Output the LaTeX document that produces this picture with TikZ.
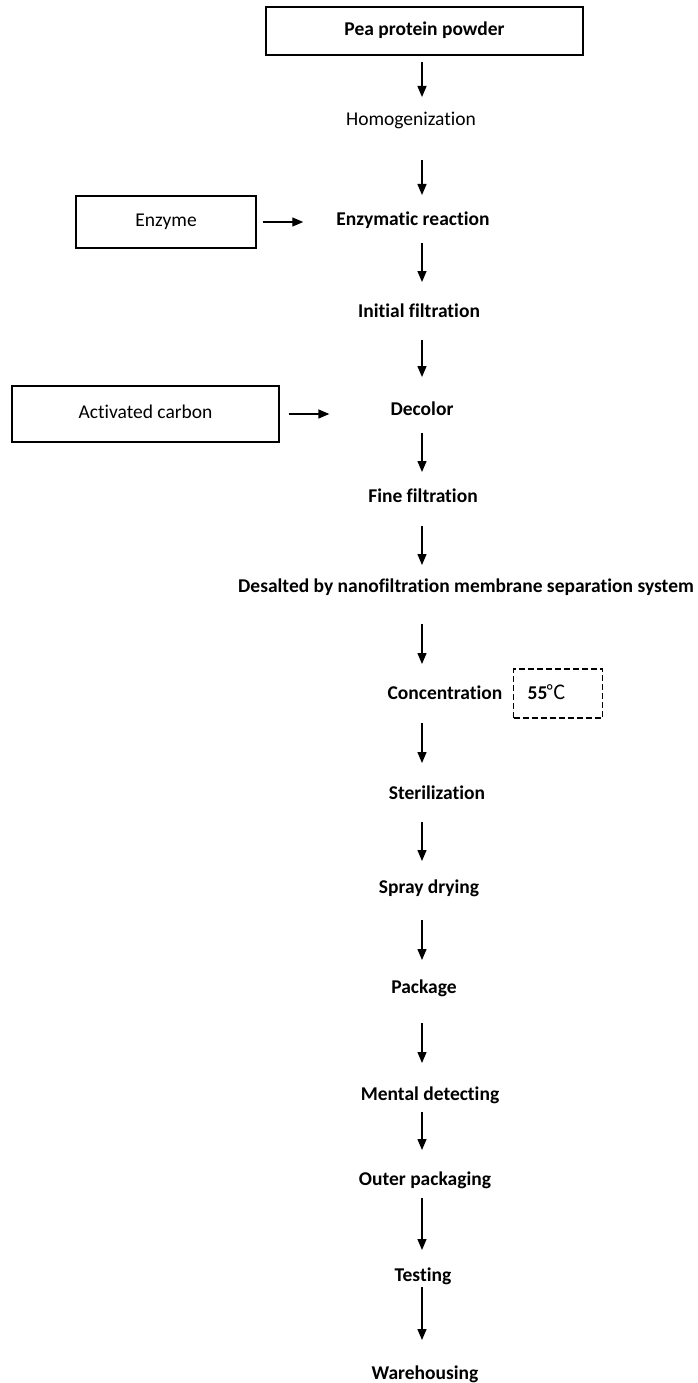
\documentclass[tikz,border=0pt]{standalone}
\usepackage{fontspec}
\setmainfont{Carlito}[Ligatures=NoCommon]
\newfontfamily\cjk{Noto Sans CJK SC}
\usetikzlibrary{arrows.meta}

\begin{document}
\begin{tikzpicture}[x=1pt,y=-1pt,
    stepname/.style={inner sep=0pt, text height=16pt, text depth=3.5pt,
      font=\fontsize{19.5}{23}\selectfont\bfseries},
    plainname/.style={stepname, font=\fontsize{19.5}{23}\selectfont},
    box/.style={draw, line width=1.4pt, text height=13pt, text depth=4.5pt},
    dashbox/.style={draw, line width=1.4pt, dash pattern=on 6pt off 3pt},
    flow/.style={-{Triangle[width=9pt,length=11pt]}, line width=1.4pt}]
  \useasboundingbox (0,0) rectangle (698,1383);
  \coordinate (col) at (422,0);
  \path
    (424.5,31) node[stepname, box, minimum width=317, minimum height=48] (pea){Pea protein powder}
    (411,119) node[plainname] (homog){Homogenization}
    (166,222) node[plainname, box, minimum width=180, minimum height=52] (enz){Enzyme}
    (413,219) node[stepname] (enzr){Enzymatic reaction}
    (419,311) node[stepname] (initf){Initial filtration}
    (145.5,414) node[plainname, box, minimum width=267, minimum height=56] (carbon){Activated carbon}
    (422,409) node[stepname] (decol){Decolor}
    (423,496) node[stepname] (finef){Fine filtration}
    (466,586) node[stepname] (desalt){Desalted by nanofiltration membrane separation system}
    (445,693) node[stepname] (conc){Concentration}
    (513,693.5) node[stepname, dashbox, anchor=west, text width=61, inner xsep=14,
      minimum height=49, align=left] (temp){55\kern-1pt{\cjk\mdseries ℃}}
    (437,793) node[stepname] (steril){Sterilization}
    (429,887) node[stepname] (spray){Spray drying}
    (424,987) node[stepname] (pack){Package}
    (430,1094) node[stepname] (metal){Mental detecting}
    (425,1179) node[stepname] (outer){Outer packaging}
    (423,1275) node[stepname] (test){Testing}
    (425,1373) node[stepname] (wareh){Warehousing};
  \begin{scope}[flow]
    \draw[shorten <=31, shorten >=22] (pea.center -| col) -- (homog.center -| col);
    \draw[shorten <=41, shorten >=24] (homog.center -| col) -- (enzr.center -| col);
    \draw[shorten <=24, shorten >=29] (enzr.center -| col) -- (initf.center -| col);
    \draw[shorten <=29, shorten >=32] (initf.center -| col) -- (decol.center -| col);
    \draw[shorten <=24, shorten >=24] (decol.center -| col) -- (finef.center -| col);
    \draw[shorten <=30, shorten >=21] (finef.center -| col) -- (desalt.center -| col);
    \draw[shorten <=38, shorten >=29] (desalt.center -| col) -- (conc.center -| col);
    \draw[shorten <=30, shorten >=30] (conc.center -| col) -- (steril.center -| col);
    \draw[shorten <=29, shorten >=26] (steril.center -| col) -- (spray.center -| col);
    \draw[shorten <=33, shorten >=27] (spray.center -| col) -- (pack.center -| col);
    \draw[shorten <=36, shorten >=31] (pack.center -| col) -- (metal.center -| col);
    \draw[shorten <=18, shorten >=29] (metal.center -| col) -- (outer.center -| col);
    \draw[shorten <=19, shorten >=25] (outer.center -| col) -- (test.center -| col);
    \draw[shorten <=12, shorten >=33] (test.center -| col) -- (wareh.center -| col);
    \draw[shorten <=6, shorten >=33] (enz.east) -- (enz.east -| enzr.west);
    \draw[shorten <=9, shorten >=61] (carbon.east) -- (carbon.east -| decol.west);
  \end{scope}
\end{tikzpicture}
\end{document}
